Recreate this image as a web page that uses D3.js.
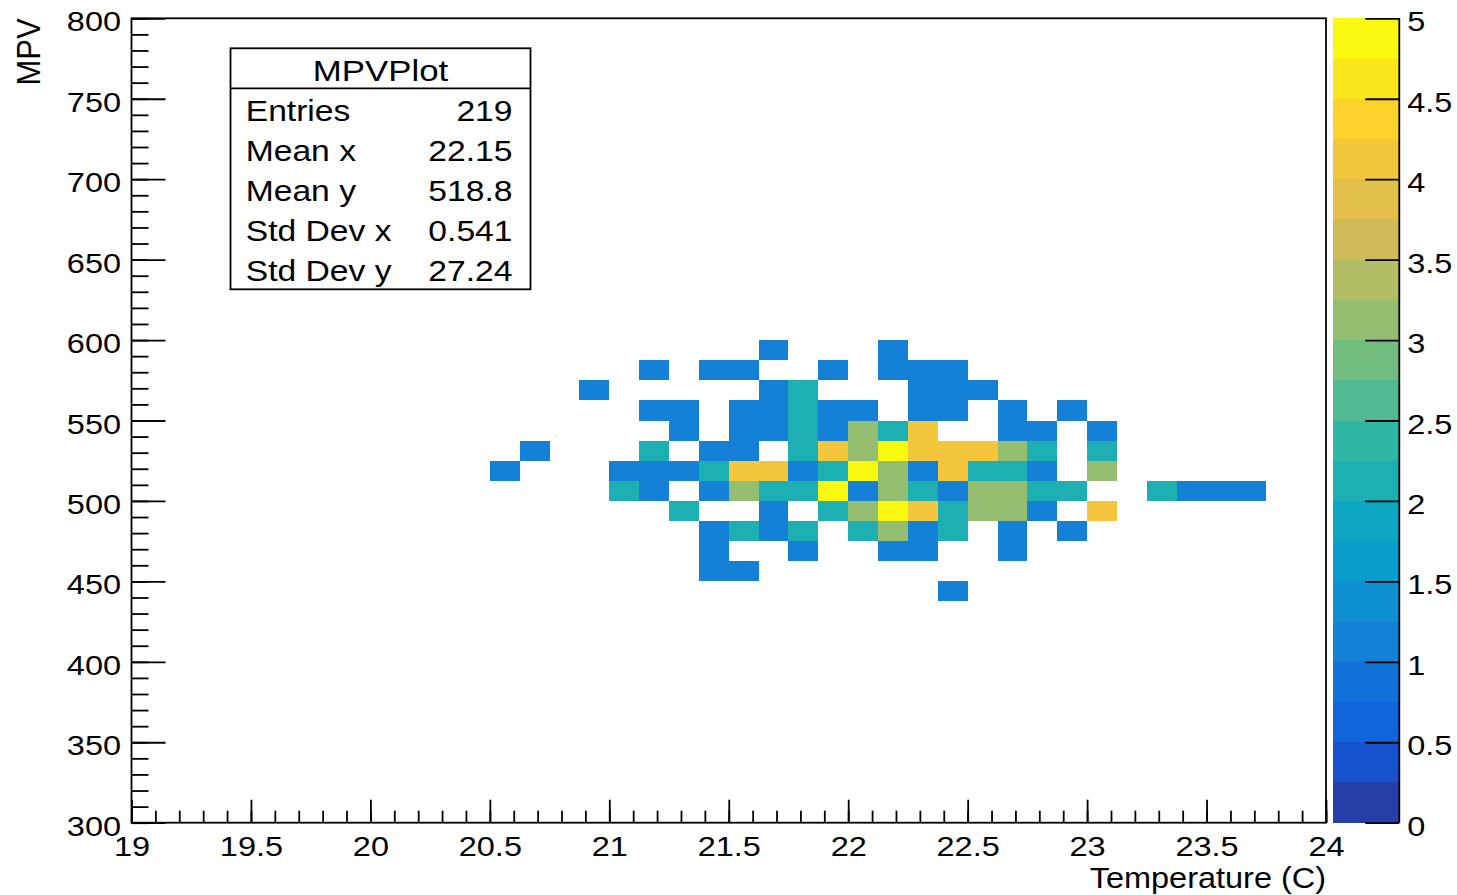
<!DOCTYPE html>
<html><head><meta charset="utf-8">
<script src="https://cdn.jsdelivr.net/npm/d3@7"></script>
<style>
body{margin:0;background:#fff;}
text{font-family:"Liberation Sans",Arial,Helvetica,sans-serif;fill:#000;}
</style>
</head><body>
<svg id="chart" width="1457" height="895"></svg>
<script>
// ---------------- DATA ----------------
// lower edges of the temperature bins (deg C), bin width 0.125
const binTemp = [
  21.625, 22.125,                                                     // MPV 587.5
  21.125, 21.375, 21.5, 21.875, 22.125, 22.25, 22.375,                // 575
  20.875, 21.625, 21.75, 22.25, 22.375, 22.5,                         // 562.5
  21.125, 21.25, 21.5, 21.625, 21.75, 21.875, 22, 22.25, 22.375, 22.625, 22.875, // 550
  21.25, 21.5, 21.625, 21.75, 21.875, 22, 22.125, 22.25, 22.625, 22.75, 23,     // 537.5
  20.625, 21.125, 21.375, 21.5, 21.75, 21.875, 22, 22.125, 22.25, 22.375, 22.5, 22.625, 22.75, 23, // 525
  20.5, 21, 21.125, 21.25, 21.375, 21.5, 21.625, 21.75, 21.875, 22, 22.125, 22.25, 22.375, 22.5, 22.625, 22.75, 23, // 512.5
  21, 21.125, 21.375, 21.5, 21.625, 21.75, 21.875, 22, 22.125, 22.25, 22.375, 22.5, 22.625, 22.75, 22.875, 23.25, 23.375, 23.5, 23.625, // 500
  21.25, 21.625, 21.875, 22, 22.125, 22.25, 22.375, 22.5, 22.625, 22.75, 23, // 487.5
  21.375, 21.5, 21.625, 21.75, 22, 22.125, 22.25, 22.375, 22.625, 22.875,     // 475
  21.375, 21.75, 22.125, 22.25, 22.625,                               // 462.5
  21.375, 21.5,                                                       // 450
  22.375                                                              // 437.5
];
// lower edges of the MPV bins, bin width 12.5
const binMPV = [
  587.5, 587.5,
  575, 575, 575, 575, 575, 575, 575,
  562.5, 562.5, 562.5, 562.5, 562.5, 562.5,
  550, 550, 550, 550, 550, 550, 550, 550, 550, 550, 550,
  537.5, 537.5, 537.5, 537.5, 537.5, 537.5, 537.5, 537.5, 537.5, 537.5, 537.5,
  525, 525, 525, 525, 525, 525, 525, 525, 525, 525, 525, 525, 525, 525,
  512.5, 512.5, 512.5, 512.5, 512.5, 512.5, 512.5, 512.5, 512.5, 512.5, 512.5, 512.5, 512.5, 512.5, 512.5, 512.5, 512.5,
  500, 500, 500, 500, 500, 500, 500, 500, 500, 500, 500, 500, 500, 500, 500, 500, 500, 500, 500,
  487.5, 487.5, 487.5, 487.5, 487.5, 487.5, 487.5, 487.5, 487.5, 487.5, 487.5,
  475, 475, 475, 475, 475, 475, 475, 475, 475, 475,
  462.5, 462.5, 462.5, 462.5, 462.5,
  450, 450,
  437.5
];
// bin contents
const binCount = [
  1, 1,
  1, 1, 1, 1, 1, 1, 1,
  1, 1, 2, 1, 1, 1,
  1, 1, 1, 1, 2, 1, 1, 1, 1, 1, 1,
  1, 1, 1, 2, 1, 3, 2, 4, 1, 1, 1,
  1, 2, 1, 1, 2, 4, 3, 5, 4, 4, 4, 3, 2, 2,
  1, 1, 1, 1, 2, 4, 4, 1, 2, 5, 3, 1, 4, 2, 2, 1, 3,
  2, 1, 1, 3, 2, 2, 5, 1, 3, 2, 1, 3, 3, 2, 2, 2, 1, 1, 1,
  2, 1, 2, 3, 5, 4, 2, 3, 3, 1, 4,
  1, 2, 1, 2, 2, 3, 1, 2, 1, 1,
  1, 1, 1, 1, 1,
  1, 1,
  1
];
const xBinWidth = 0.125, yBinWidth = 12.5;

const xMajorTicks = [19, 19.5, 20, 20.5, 21, 21.5, 22, 22.5, 23, 23.5, 24];
const yMajorTicks = [300, 350, 400, 450, 500, 550, 600, 650, 700, 750, 800];
const zMajorTicks = [0, 0.5, 1, 1.5, 2, 2.5, 3, 3.5, 4, 4.5, 5];
const xTitle = "Temperature (C)";
const yTitle = "MPV";
const statTitle = "MPVPlot";
const statLabels = ["Entries", "Mean x", "Mean y", "Std Dev x", "Std Dev y"];
const statValues = ["219", "22.15", "518.8", "0.541", "27.24"];
const zMin = 0, zMax = 5, nLevels = 20;

// ROOT kBird palette stops
const palStops = [0.0, 0.125, 0.25, 0.375, 0.5, 0.625, 0.75, 0.875, 1.0];
const palRed   = [0.2082, 0.0592, 0.0780, 0.0232, 0.1802, 0.5301, 0.8186, 0.9956, 0.9764];
const palGreen = [0.1664, 0.3599, 0.5041, 0.6419, 0.7178, 0.7492, 0.7328, 0.7862, 0.9832];
const palBlue  = [0.5293, 0.8684, 0.8385, 0.7914, 0.6425, 0.4662, 0.3499, 0.1968, 0.0539];

// ---------------- PALETTE ----------------
const NCOL = 255;
const palette = [];
for (let g = 0; g < palStops.length - 1; g++) {
  const a = Math.floor(NCOL * palStops[g]), b = Math.floor(NCOL * palStops[g + 1]);
  const n = b - a;
  for (let i = 0; i < n; i++) {
    const f = i / n;
    palette.push(d3.rgb(
      255 * (palRed[g] + (palRed[g + 1] - palRed[g]) * f),
      255 * (palGreen[g] + (palGreen[g + 1] - palGreen[g]) * f),
      255 * (palBlue[g] + (palBlue[g + 1] - palBlue[g]) * f)).formatHex());
  }
}
function levelColor(k) {
  k = Math.max(0, Math.min(nLevels - 1, k));
  return palette[Math.min(NCOL - 1, Math.floor((k + 0.99) * NCOL / nLevels))];
}
const dz = (zMax - zMin) / nLevels;
function valueColor(v) { return levelColor(Math.floor((v - zMin) / dz)); }

// ---------------- LAYOUT ----------------
const svg = d3.select("#chart");
const X0 = 131.5, X1 = 1326, Y0 = 822.7, Y1 = 18.3;
const x = d3.scaleLinear().domain([19, 24]).range([X0, X1]);
const y = d3.scaleLinear().domain([300, 800]).range([Y0, Y1]);
const z = d3.scaleLinear().domain([zMin, zMax]).range([Y0, Y1]);
const SX = 1.16;   // horizontal stretch of glyphs
const LW = 1.8;
const TICKFONT = 28;

// cells
svg.append("g").selectAll("rect").data(binCount.map((c, i) => ({t: binTemp[i], m: binMPV[i], c})))
  .join("rect")
  .attr("x", d => x(d.t))
  .attr("y", d => y(d.m + yBinWidth))
  .attr("width", d => x(d.t + xBinWidth) - x(d.t))
  .attr("height", d => y(d.m) - y(d.m + yBinWidth))
  .attr("fill", d => valueColor(d.c))
  .attr("shape-rendering", "crispEdges");

// axes
function styleAxis(g) {
  g.select(".domain").remove();
  g.selectAll(".tick line").attr("stroke", "#000").attr("stroke-width", LW);
}
const xMinor = d3.range(190, 241).map(v => v / 10);
const yMinor = d3.range(300, 801, 10);

svg.append("g").attr("transform", `translate(0,${Y0})`)
  .call(d3.axisBottom(x).tickValues(xMinor).tickSize(-12).tickFormat(""))
  .call(styleAxis);
const gx = svg.append("g").attr("transform", `translate(0,${Y0})`)
  .call(d3.axisBottom(x).tickValues(xMajorTicks).tickSize(-23).tickFormat(d => String(d)))
  .call(styleAxis);
gx.selectAll("text").attr("y", 33.5).attr("dy", null).attr("font-size", TICKFONT)
  .attr("text-anchor", "middle").attr("transform", `scale(${SX},1)`)
  .attr("font-family", '"Liberation Sans",Arial,sans-serif').attr("fill", "#000");

svg.append("g").attr("transform", `translate(${X0},0)`)
  .call(d3.axisLeft(y).tickValues(yMinor).tickSize(-17).tickFormat(""))
  .call(styleAxis);
const gy = svg.append("g").attr("transform", `translate(${X0},0)`)
  .call(d3.axisLeft(y).tickValues(yMajorTicks).tickSize(-34).tickFormat(d => String(d)))
  .call(styleAxis);
gy.selectAll("text").attr("x", -10.5 / SX).attr("y", 12.5).attr("dy", null).attr("font-size", TICKFONT)
  .attr("text-anchor", "end").attr("transform", `scale(${SX},1)`)
  .attr("font-family", '"Liberation Sans",Arial,sans-serif').attr("fill", "#000");

// frame
svg.append("rect").attr("x", X0).attr("y", Y1).attr("width", X1 - X0).attr("height", Y0 - Y1)
  .attr("fill", "none").attr("stroke", "#000").attr("stroke-width", LW);

// color bar
const CB0 = 1333.3, CB1 = 1399.3;
const levels = d3.range(nLevels);
svg.append("g").selectAll("rect").data(levels).join("rect")
  .attr("x", CB0).attr("width", CB1 - CB0)
  .attr("y", k => z(zMin + (k + 1) * dz))
  .attr("height", k => z(zMin + k * dz) - z(zMin + (k + 1) * dz))
  .attr("fill", k => levelColor(k))
  .attr("shape-rendering", "crispEdges");
const gz = svg.append("g").attr("transform", `translate(${CB1},0)`)
  .call(d3.axisRight(z).tickValues(zMajorTicks).tickSize(-34).tickSizeOuter(0).tickFormat(d => String(d)));
gz.select(".domain").attr("stroke", "#000").attr("stroke-width", LW).attr("d", `M0,${Y1}V${Y0}`);
gz.selectAll(".tick line").attr("stroke", "#000").attr("stroke-width", LW);
gz.selectAll("text").attr("x", 8 / SX).attr("y", 12.5).attr("dy", null).attr("font-size", TICKFONT)
  .attr("text-anchor", "start").attr("transform", `scale(${SX},1)`)
  .attr("font-family", '"Liberation Sans",Arial,sans-serif').attr("fill", "#000");

// text helper
function txt(px, py, s, size, anchor, sx) {
  return svg.append("text").attr("transform", `translate(${px},${py}) scale(${sx || SX},1)`)
    .attr("font-size", size).attr("text-anchor", anchor).text(s);
}
// axis titles
txt(X1, 887.5, xTitle, 29, "end", 1.12);
svg.append("text").attr("transform", `translate(40,${Y1}) scale(1.08,1) rotate(-90)`)
  .attr("font-size", 31).attr("text-anchor", "end").text(yTitle);

// stats box
svg.append("rect").attr("x", 230.5).attr("y", 48.3).attr("width", 300).attr("height", 241)
  .attr("fill", "#fff").attr("stroke", "#000").attr("stroke-width", LW);
svg.append("line").attr("x1", 230.5).attr("x2", 530.5).attr("y1", 88.3).attr("y2", 88.3)
  .attr("stroke", "#000").attr("stroke-width", LW);
txt(380.5, 80.5, statTitle, 30, "middle");
statLabels.forEach((l, i) => {
  txt(245.7, 121 + 40 * i, l, 29, "start");
  txt(512.5, 121 + 40 * i, statValues[i], 29, "end");
});
</script>
</body></html>
